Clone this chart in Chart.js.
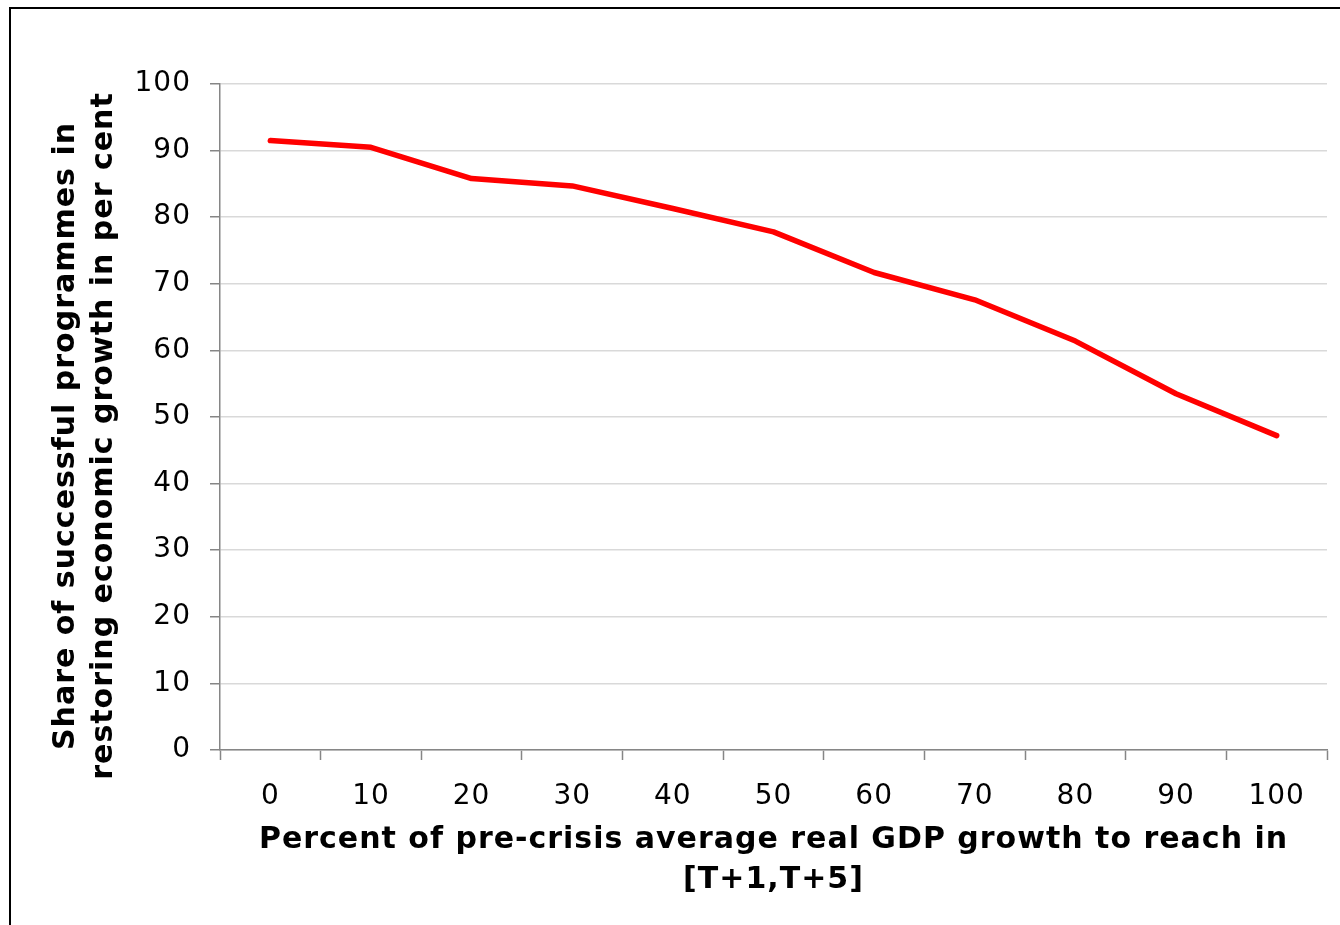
<!DOCTYPE html>
<html>
<head>
<meta charset="utf-8">
<script src="https://cdn.jsdelivr.net/npm/chart.js@4.4.1/dist/chart.umd.min.js"></script>
<style>
  html, body { margin: 0; padding: 0; background: #fff; overflow: hidden; }
  #wrap { position: relative; width: 1340px; height: 925px; overflow: hidden; }
  #frame {
    position: absolute; left: 9px; top: 7px; width: 2000px; height: 2000px;
    border-left: 2px solid #000; border-top: 2px solid #000; pointer-events: none;
  }
  canvas { position: absolute; left: 0; top: 0; }
</style>
</head>
<body>
<div id="wrap">
  <canvas id="chart" width="1340" height="925"></canvas>
  <div id="frame"></div>
</div>
<script>
const categories = ['0', '10', '20', '30', '40', '50', '60', '70', '80', '90', '100'];
const shareSuccessful = [91.5, 90.5, 85.8, 84.7, 81.3, 77.8, 71.7, 67.6, 61.4, 53.5, 47.2];
const xTitle = ['Percent of pre-crisis average real GDP growth to reach in', '[T+1,T+5]'];
const yTitle = ['Share of successful programmes in', 'restoring economic growth in per cent'];

const FONT = '"DejaVu Sans", Verdana, sans-serif';
const AXIS_GRAY = '#868686';

// Verdana-ish spacing
const spacingPlugin = {
  id: 'spacing',
  beforeDraw(chart) { chart.ctx.letterSpacing = '1px'; }
};

// y title sits a bit below the plot centre in the original
function shiftYTitle(scale) {
  if (scale._titleShifted) return;
  scale._titleShifted = true;
  const base = Object.getPrototypeOf(scale).drawTitle;
  scale.drawTitle = function () {
    this.ctx.save();
    this.ctx.translate(0, 19);
    base.call(this);
    this.ctx.restore();
  };
}

const ctx = document.getElementById('chart').getContext('2d');
new Chart(ctx, {
  type: 'line',
  data: {
    labels: categories,
    datasets: [{
      data: shareSuccessful,
      borderColor: '#ff0000',
      borderWidth: 5.5,
      borderCapStyle: 'round',
      borderJoinStyle: 'round',
      pointRadius: 0,
      tension: 0,
      fill: false
    }]
  },
  plugins: [spacingPlugin],
  options: {
    responsive: false,
    animation: false,
    layout: { padding: { top: 84, right: 13, left: 0, bottom: 0 } },
    plugins: {
      legend: { display: false },
      tooltip: { enabled: false }
    },
    scales: {
      x: {
        offset: true,
        grid: {
          offset: true,
          drawOnChartArea: false,
          drawTicks: true,
          tickLength: 10,
          tickColor: AXIS_GRAY,
          tickWidth: 1.5
        },
        border: { color: AXIS_GRAY, width: 1.5 },
        ticks: {
          color: '#000',
          padding: 20,
          maxRotation: 0,
          font: { family: FONT, size: 28 }
        },
        title: {
          display: true,
          text: xTitle,
          color: '#000',
          padding: { top: 0, bottom: 25 },
          font: { family: FONT, size: 30, weight: 'bold', lineHeight: 1.333 }
        },
        afterFit: (scale) => { scale.height = 925 - 750; }
      },
      y: {
        min: 0,
        max: 100,
        ticks: {
          stepSize: 10,
          color: '#000',
          padding: 19,
          font: { family: FONT, size: 28 }
        },
        grid: {
          color: '#d9d9d9',
          lineWidth: 1.5,
          tickLength: 10,
          tickColor: AXIS_GRAY,
          tickWidth: 1.5
        },
        border: { color: AXIS_GRAY, width: 1.5 },
        title: {
          display: true,
          text: yTitle,
          color: '#000',
          padding: { top: 47, bottom: 0 },
          font: { family: FONT, size: 30, weight: 'bold', lineHeight: 1.267 }
        },
        afterFit: (scale) => { scale.width = 220; },
        afterUpdate: shiftYTitle
      }
    }
  }
});
</script>
</body>
</html>
